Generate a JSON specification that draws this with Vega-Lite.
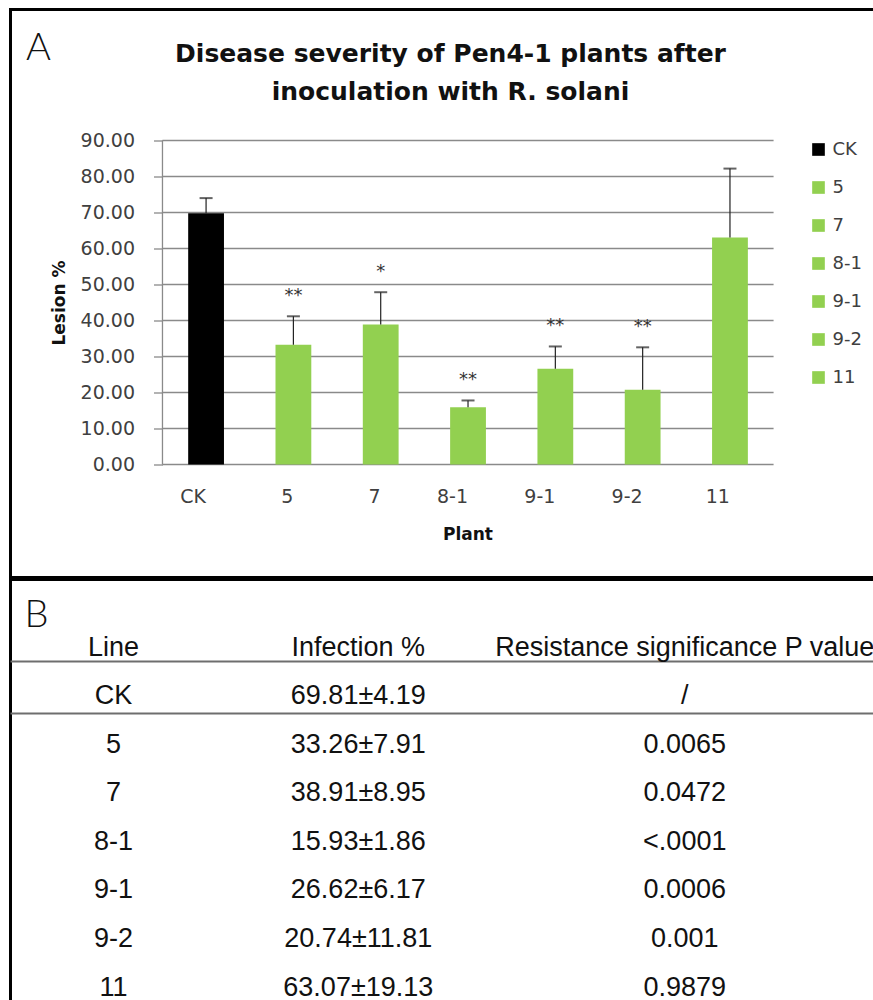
{
  "$schema": "https://vega.github.io/schema/vega-lite/v6.json",
  "background": "white",
  "padding": {"left": 7.5, "top": 7.5, "right": 0, "bottom": 0},
  "config": {
    "font": "DejaVu Sans",
    "view": {"stroke": null}
  },
  "title": {"text": "A", "anchor": "start", "frame": "bounds", "orient": "top", "offset": 0, "dx": 18, "dy": 60, "font": "Lato", "fontSize": 38, "fontWeight": 300, "color": "#111111"},
  "datasets": {
    "bars": [
      {"Plant": "CK", "Lesion": 69.81, "SD": 4.19, "Upper": 74.00, "Sig": ""},
      {"Plant": "5", "Lesion": 33.26, "SD": 7.91, "Upper": 41.17, "Sig": "**"},
      {"Plant": "7", "Lesion": 38.91, "SD": 8.95, "Upper": 47.86, "Sig": "*"},
      {"Plant": "8-1", "Lesion": 15.93, "SD": 1.86, "Upper": 17.79, "Sig": "**"},
      {"Plant": "9-1", "Lesion": 26.62, "SD": 6.17, "Upper": 32.79, "Sig": "**"},
      {"Plant": "9-2", "Lesion": 20.74, "SD": 11.81, "Upper": 32.55, "Sig": "**"},
      {"Plant": "11", "Lesion": 63.07, "SD": 19.13, "Upper": 82.20, "Sig": ""}
    ],
    "gridlines": [
      {"v": 0}, {"v": 10}, {"v": 20}, {"v": 30}, {"v": 40},
      {"v": 50}, {"v": 60}, {"v": 70}, {"v": 80}, {"v": 90}
    ],
    "table": [
      {"row": "header", "col": "Line", "value": "Line"},
      {"row": "header", "col": "Infection", "value": "Infection %"},
      {"row": "header", "col": "P", "value": "Resistance significance P value"},
      {"row": "CK", "col": "Line", "value": "CK"},
      {"row": "CK", "col": "Infection", "value": "69.81±4.19"},
      {"row": "CK", "col": "P", "value": "/"},
      {"row": "5", "col": "Line", "value": "5"},
      {"row": "5", "col": "Infection", "value": "33.26±7.91"},
      {"row": "5", "col": "P", "value": "0.0065"},
      {"row": "7", "col": "Line", "value": "7"},
      {"row": "7", "col": "Infection", "value": "38.91±8.95"},
      {"row": "7", "col": "P", "value": "0.0472"},
      {"row": "8-1", "col": "Line", "value": "8-1"},
      {"row": "8-1", "col": "Infection", "value": "15.93±1.86"},
      {"row": "8-1", "col": "P", "value": "<.0001"},
      {"row": "9-1", "col": "Line", "value": "9-1"},
      {"row": "9-1", "col": "Infection", "value": "26.62±6.17"},
      {"row": "9-1", "col": "P", "value": "0.0006"},
      {"row": "9-2", "col": "Line", "value": "9-2"},
      {"row": "9-2", "col": "Infection", "value": "20.74±11.81"},
      {"row": "9-2", "col": "P", "value": "0.001"},
      {"row": "11", "col": "Line", "value": "11"},
      {"row": "11", "col": "Infection", "value": "63.07±19.13"},
      {"row": "11", "col": "P", "value": "0.9879"}
    ]
  },
  "spacing": -3,
  "vconcat": [
    {
      "width": 888,
      "height": 568,
      "view": {"stroke": "black", "strokeWidth": 3},
      "title": {
        "text": ["Disease severity of Pen4-1 plants after", "inoculation with R. solani"],
        "anchor": "middle",
        "frame": "group",
        "offset": 0,
        "dy": 95,
        "dx": -4,
        "fontSize": 25,
        "fontWeight": "bold",
        "lineHeight": 38,
        "color": "#111111"
      },
      "layer": [
        {
          "data": {"name": "gridlines"},
          "mark": {"type": "rule", "color": "#8a8a8a", "strokeWidth": 1.3},
          "encoding": {
            "y": {"field": "v", "type": "quantitative"},
            "x": {"datum": "CK", "bandPosition": -0.718},
            "x2": {"datum": "11", "bandPosition": 1.718}
          }
        },
        {
          "data": {"name": "gridlines"},
          "transform": [{"filter": "datum.v === 0"}],
          "mark": {"type": "rule", "color": "#8a8a8a", "strokeWidth": 1.3},
          "encoding": {
            "y": {"field": "v", "type": "quantitative"},
            "y2": {"datum": 90},
            "x": {"datum": "CK", "bandPosition": -0.718}
          }
        },
        {
          "data": {"name": "bars"},
          "mark": {"type": "bar"},
          "encoding": {
            "x": {
              "field": "Plant",
              "type": "nominal",
              "scale": {"domain": [" ", "CK", "5", "7", "8-1", "9-1", "9-2", "11", "  "], "paddingInner": 0.59, "paddingOuter": 0.88, "align": 0.588},
              "axis": {
                "title": "Plant",
                "orient": "bottom",
                "offset": -113,
                "values": ["CK", "5", "7", "8-1", "9-1", "9-2", "11"],
                "labelAngle": 0,
                "ticks": false,
                "domain": false,
                "labelPadding": 32,
                "labelFontSize": 19,
                "labelColor": "#404040",
                "titleFontSize": 17,
                "titleFontWeight": "bold",
                "titleColor": "#111111",
                "titlePadding": 20,
                "titleX": 457
              }
            },
            "y": {
              "field": "Lesion",
              "type": "quantitative",
              "scale": {"domain": [-31.39, 126.39], "nice": false, "zero": false},
              "axis": {
                "title": "Lesion %",
                "offset": -152,
                "values": [0, 10, 20, 30, 40, 50, 60, 70, 80, 90],
                "format": ".2f",
                "grid": false,
                "domain": false,
                "tickColor": "#8a8a8a",
                "tickWidth": 1.3,
                "tickSize": 9,
                "labelPadding": 19,
                "labelFontSize": 19,
                "labelColor": "#404040",
                "titleFontSize": 17,
                "titleFontWeight": "bold",
                "titleColor": "#111111",
                "titlePadding": 12,
                "titleY": 293
              }
            },
            "color": {
              "field": "Plant",
              "type": "nominal",
              "scale": {
                "domain": ["CK", "5", "7", "8-1", "9-1", "9-2", "11"],
                "range": ["#000000", "#92D050", "#92D050", "#92D050", "#92D050", "#92D050", "#92D050"]
              },
              "legend": {
                "title": null,
                "orient": "none",
                "legendX": 799,
                "legendY": 131,
                "symbolType": "square",
                "symbolSize": 160,
                "symbolStrokeWidth": 0,
                "labelFontSize": 18,
                "labelColor": "#404040",
                "labelOffset": 5,
                "rowPadding": 20
              }
            }
          }
        },
        {
          "data": {"name": "bars"},
          "mark": {"type": "rule", "color": "#222222", "strokeWidth": 1.2},
          "encoding": {
            "x": {"field": "Plant", "type": "nominal"},
            "y": {"field": "Lesion", "type": "quantitative"},
            "y2": {"field": "Upper"}
          }
        },
        {
          "data": {"name": "bars"},
          "mark": {"type": "tick", "color": "#222222", "thickness": 2, "size": 13},
          "encoding": {
            "x": {"field": "Plant", "type": "nominal"},
            "y": {"field": "Upper", "type": "quantitative"}
          }
        },
        {
          "data": {"name": "bars"},
          "mark": {"type": "text", "baseline": "middle", "dy": -20, "fontSize": 18, "color": "#333333"},
          "encoding": {
            "x": {"field": "Plant", "type": "nominal"},
            "y": {"field": "Upper", "type": "quantitative"},
            "text": {"field": "Sig"}
          }
        }
      ]
    },
    {
      "width": 888,
      "height": 476,
      "view": {"stroke": "black", "strokeWidth": 3},
      "title": {"text": "B", "anchor": "start", "frame": "group", "orient": "top", "offset": 0, "dx": 14, "dy": 55, "font": "Lato", "fontSize": 38, "fontWeight": 300, "color": "#111111"},
      "data": {"name": "table"},
      "encoding": {
        "y": {
          "field": "row",
          "type": "nominal",
          "scale": {"type": "band", "domain": ["header", "CK", "5", "7", "8-1", "9-1", "9-2", "11"], "paddingInner": 0, "paddingOuter": 0.9},
          "axis": null
        },
        "x": {
          "field": "col",
          "type": "nominal",
          "scale": {"type": "point", "domain": ["g0", "Line", "g1", "g2", "Infection", "g3", "g4", "g5", "P", "g6"], "padding": 0.94, "align": 0.139},
          "axis": null
        }
      },
      "layer": [
        {
          "transform": [{"filter": "datum.row === 'header' && datum.col === 'Line'"}],
          "mark": {"type": "rule", "color": "#6e6e6e", "strokeWidth": 2},
          "encoding": {
            "x": null,
            "y": {"field": "row", "type": "nominal", "bandPosition": 0.79}
          }
        },
        {
          "transform": [{"filter": "datum.row === 'CK' && datum.col === 'Line'"}],
          "mark": {"type": "rule", "color": "#6e6e6e", "strokeWidth": 2},
          "encoding": {
            "x": null,
            "y": {"field": "row", "type": "nominal", "bandPosition": 0.86}
          }
        },
        {
          "mark": {"type": "text", "font": "Liberation Sans", "fontSize": 27, "color": "#111111", "baseline": "middle", "align": "center"},
          "encoding": {
            "text": {"field": "value"}
          }
        }
      ]
    }
  ]
}
